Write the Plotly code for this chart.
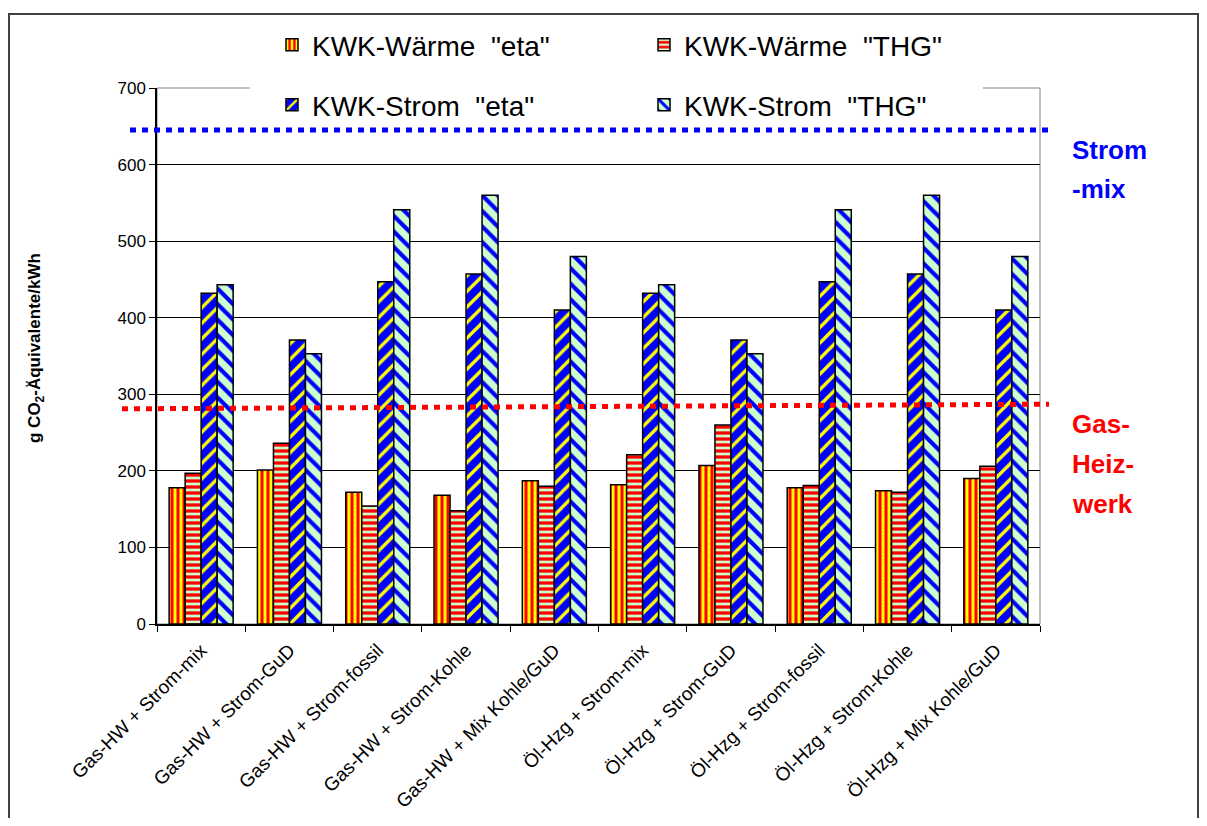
import plotly.graph_objects as go

categories = [
    "Gas-HW + Strom-mix", "Gas-HW + Strom-GuD", "Gas-HW + Strom-fossil",
    "Gas-HW + Strom-Kohle", "Gas-HW + Mix Kohle/GuD",
    "Öl-Hzg + Strom-mix", "Öl-Hzg + Strom-GuD", "Öl-Hzg + Strom-fossil",
    "Öl-Hzg + Strom-Kohle", "Öl-Hzg + Mix Kohle/GuD",
]
waerme_eta = [178, 201, 172, 168, 187, 182, 207, 178, 174, 190]
waerme_thg = [197, 236, 154, 148, 180, 221, 260, 181, 172, 206]
strom_eta = [432, 371, 447, 457, 410, 432, 371, 447, 457, 410]
strom_thg = [443, 353, 541, 560, 480, 443, 353, 541, 560, 480]

strommix_level = [645, 645]     # left, right end of dotted line
gas_heizwerk_level = [281, 287]

series_names = ['KWK-Wärme  "eta"', 'KWK-Wärme  "THG"', 'KWK-Strom  "eta"', 'KWK-Strom  "THG"']
y_ticks = [0, 100, 200, 300, 400, 500, 600, 700]

FONT = "Liberation Sans, Arial, sans-serif"

fig = go.Figure()

styles = [
    dict(shape="|", bg="#FFFF00", fg="#FF0000", size=6, sol=0.5, legend="legend"),
    dict(shape="-", bg="#CCFFCC", fg="#FF0000", size=6, sol=0.55, legend="legend"),
    dict(shape="/", bg="#0000FF", fg="#FFFF00", size=11, sol=0.3, legend="legend2"),
    dict(shape="\\", bg="#CCFFCC", fg="#0000FF", size=11, sol=0.38, legend="legend2"),
]
for name, vals, st in zip(series_names, [waerme_eta, waerme_thg, strom_eta, strom_thg], styles):
    fig.add_trace(go.Bar(
        x=categories, y=vals, name=name, legend=st["legend"],
        marker=dict(
            color=st["bg"],
            line=dict(color="black", width=1.5),
            pattern=dict(shape=st["shape"], bgcolor=st["bg"], fgcolor=st["fg"],
                         size=st["size"], solidity=st["sol"], fillmode="replace"),
        ),
    ))

# page offset of the figure (browser body margin)
OFF = 8
W, H = 1207 - 2 * OFF, 826 - 2 * OFF
# plot area in page pixels
L, R, T, B = 157, 1040, 88, 624
pw, ph = R - L, B - T

def px(xp):
    return (xp - L) / pw

def py(yp):
    return (B - yp) / ph

shapes = [
    dict(type="rect", xref="paper", yref="paper", x0=0, x1=1, y0=0, y1=1,
         line=dict(color="#808080", width=1), layer="between"),
    dict(type="rect", xref="paper", yref="paper", x0=px(250), x1=px(983), y0=py(125), y1=py(20),
         line=dict(width=0), fillcolor="white", layer="between"),
    dict(type="line", xref="paper", yref="y", x0=px(130), x1=px(1048),
         y0=strommix_level[0], y1=strommix_level[1],
         line=dict(color="#0000FF", width=5, dash="6px,6px"), layer="above"),
    dict(type="line", xref="paper", yref="y", x0=px(122), x1=px(1049),
         y0=gas_heizwerk_level[0], y1=gas_heizwerk_level[1],
         line=dict(color="#FF0000", width=5, dash="6px,6px"), layer="above"),
    dict(type="rect", xref="paper", yref="paper", x0=px(9), x1=px(1198), y0=py(840), y1=py(14),
         line=dict(color="#404040", width=2), layer="above"),
]

annotations = [
    dict(text="g CO<sub>2</sub>-Äquivalente/kWh", textangle=-90, xref="paper", yref="paper",
         x=px(36), y=py(348), xanchor="center", yanchor="middle", showarrow=False,
         font=dict(family=FONT, size=17, color="black", weight="bold")),
]
for txt, yc, col in [("Strom", 150, "#0000FF"), ("-mix", 189, "#0000FF"),
                     ("Gas-", 424, "#FF0000"), ("Heiz-", 464, "#FF0000"), ("werk", 504, "#FF0000")]:
    annotations.append(dict(text=f"<b>{txt}</b>", xref="paper", yref="paper", x=px(1070), y=py(yc),
                            xanchor="left", yanchor="middle", showarrow=False,
                            font=dict(family=FONT, size=26, color=col)))

legend_common = dict(orientation="h", xanchor="left", yanchor="middle", x=px(272),
                     entrywidth=327, entrywidthmode="pixels", bgcolor="rgba(0,0,0,0)",
                     font=dict(family=FONT, size=28, color="black"), traceorder="normal")

fig.update_layout(
    width=W, height=H,
    margin=dict(l=L - OFF, r=W - (R - OFF), t=T - OFF, b=H - (B - OFF), pad=0, autoexpand=False),
    paper_bgcolor="white", plot_bgcolor="white",
    font=dict(family=FONT, color="black"),
    barmode="group", bargap=0.275, bargroupgap=0,
    showlegend=True,
    legend=dict(legend_common, y=py(45)),
    legend2=dict(legend_common, y=py(105)),
    shapes=shapes, annotations=annotations,
    xaxis=dict(type="category", showline=True, linecolor="black", linewidth=1.5,
               ticks="outside", ticklen=6, tickcolor="black", tickwidth=1, tickson="boundaries",
               tickangle=-45, ticklabelstandoff=6, automargin=False,
               tickfont=dict(family=FONT, size=19, color="black"),
               showgrid=False, zeroline=False),
    yaxis=dict(range=[0, 700], tickvals=y_ticks, showline=True, linecolor="black", linewidth=1.5,
               ticks="outside", ticklen=6, tickcolor="black", tickwidth=1, automargin=False,
               tickfont=dict(family=FONT, size=17, color="black"),
               showgrid=True, gridcolor="black", gridwidth=1, zeroline=False),
)

fig.write_html("out.html")
